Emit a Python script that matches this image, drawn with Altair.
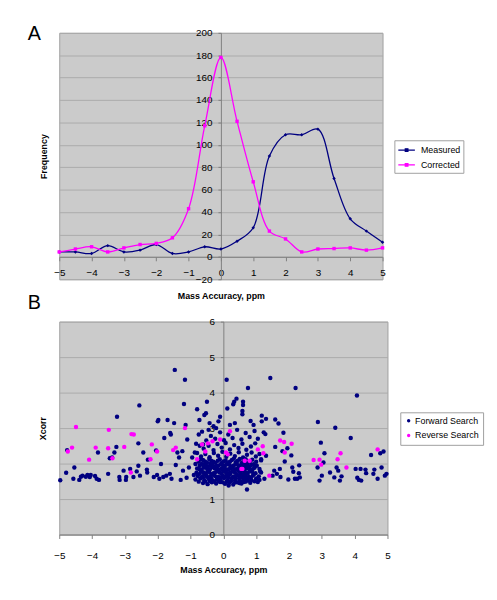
import altair as alt
import pandas as pd

# ---------------- Panel A data ----------------
x_ppm = [-5, -4.5, -4, -3.5, -3, -2.5, -2, -1.5, -1, -0.5, 0, 0.5, 1, 1.5, 2, 2.5, 3, 3.5, 4, 4.5, 5]
measured = [4.4, 4.4, 3, 10, 4.4, 6, 11, 3, 4.4, 9, 7, 14, 26, 90, 109, 109, 114, 70, 34, 23, 13]
corrected = [4.4, 7, 9, 4.4, 8, 11, 12, 17, 43, 117, 178, 121, 67, 23, 16, 4.4, 7, 7.4, 8, 6, 8]
series_a = ["Measured", "Corrected"]
colors_a = ["#000080", "#FF00FF"]

# ---------------- Panel B data ----------------
forward_points = [
    (-4.97, 1.53), (-4.79, 1.74), (-4.76, 2.38), (-4.54, 1.89), (-4.57, 1.57), (-4.39, 1.54), (-4.34, 1.63),
    (-4.29, 1.66), (-4.19, 1.63), (-4.14, 1.68), (-4.07, 1.62), (-4.04, 1.68), (-3.91, 1.65), (-3.86, 1.57),
    (-3.79, 1.54), (-3.82, 2.31), (-3.51, 1.71), (-3.46, 2.15), (-3.39, 2.17), (-3.26, 2.47), (-3.24, 3.32),
    (-3.32, 2.31), (-3.17, 1.62), (-3.16, 1.54), (-3.04, 1.80), (-2.96, 1.62), (-2.97, 1.54), (-2.84, 1.85),
    (-2.74, 1.62), (-2.64, 1.78), (-2.59, 2.57), (-2.56, 3.64), (-2.59, 1.94), (-2.54, 1.66), (-2.44, 2.31),
    (-2.32, 1.75), (-2.33, 1.83), (-2.30, 2.11), (-2.12, 1.62), (-2.05, 2.37), (-2.02, 1.68), (-2.00, 3.19),
    (-1.98, 3.23), (-1.95, 1.57), (-1.90, 1.99), (-1.83, 1.62), (-1.80, 2.72), (-1.74, 1.66), (-1.70, 3.23),
    (-1.63, 1.71), (-1.62, 2.86), (-1.60, 2.82), (-1.58, 1.57), (-1.50, 3.14), (-1.48, 4.64), (-1.45, 1.96),
    (-1.40, 2.31), (-1.35, 2.17), (-1.30, 1.54), (-1.25, 2.35), (-1.23, 1.80), (-1.20, 3.68), (-1.17, 4.36),
    (-1.15, 3.09), (-1.12, 1.60), (-1.10, 2.68), (-1.05, 1.89), (-0.95, 2.17), (-0.87, 2.31), (-0.83, 2.56),
    (-0.80, 3.53), (-0.75, 2.82), (-0.73, 3.23), (-0.62, 2.54), (-0.58, 3.37), (-0.53, 3.42), (-0.50, 3.74),
    (-0.45, 2.95), (-0.42, 3.14), (-0.30, 3.05), (-0.22, 3.00), (-0.15, 3.19), (-0.10, 3.32), (0.10, 4.36),
    (0.12, 3.55), (0.30, 3.67), (0.33, 3.74), (0.40, 3.83), (0.35, 3.14), (0.20, 3.09), (0.16, 1.38),
    (0.72, 1.27), (0.75, 4.13),
    (1.43, 4.41), (2.20, 4.13), (4.07, 3.92), (0.60, 3.74), (0.60, 3.65), (0.58, 3.48), (0.58, 3.39),
    (1.17, 3.35), (1.30, 3.26), (1.17, 3.19), (1.58, 3.24), (1.68, 3.13), (0.83, 3.20), (0.92, 3.09),
    (1.23, 2.88), (1.28, 2.83), (1.83, 2.87), (2.88, 3.17), (3.41, 3.01), (3.88, 2.72), (2.97, 2.59),
    (1.95, 2.43), (1.80, 2.35), (2.07, 2.23), (1.58, 2.47), (1.87, 2.06), (3.08, 2.29), (3.05, 2.03),
    (2.87, 1.89), (2.10, 1.89), (2.13, 1.77), (2.31, 1.95), (2.30, 1.73), (2.33, 1.61), (2.18, 1.57),
    (2.25, 1.57), (1.98, 1.55), (1.72, 1.85), (1.74, 1.62), (1.63, 1.71), (1.50, 1.66), (1.55, 1.80),
    (3.25, 1.75), (3.00, 1.66), (2.93, 1.52), (3.38, 1.61), (3.45, 1.89), (3.50, 1.80), (3.55, 1.52),
    (3.60, 1.64), (4.03, 1.85), (4.08, 1.60), (4.13, 1.54), (4.18, 1.85), (4.20, 1.52), (4.33, 1.83),
    (4.35, 1.73), (4.50, 2.24), (4.57, 1.71), (4.60, 1.83), (4.70, 1.57), (4.78, 2.29), (4.82, 1.89),
    (4.88, 2.34), (4.92, 1.66), (4.97, 1.71), (1.15, 2.12), (1.30, 2.22), (1.15, 1.75), (1.25, 1.57),
    (1.10, 1.54),
    # dense cluster around 0 ppm
    (-0.62, 1.45), (-0.48, 1.42), (-0.35, 1.47), (-0.22, 1.44), (-0.10, 1.48), (0.05, 1.43), (0.18, 1.46),
    (0.30, 1.41), (0.42, 1.47), (0.55, 1.44), (0.68, 1.49), (0.82, 1.46), (-0.75, 1.49), (0.95, 1.50),
    (1.05, 1.48),
    (-0.85, 1.55), (-0.70, 1.58), (-0.58, 1.53), (-0.45, 1.57), (-0.32, 1.52), (-0.20, 1.56), (-0.08, 1.54),
    (0.02, 1.59), (0.12, 1.52), (0.25, 1.57), (0.36, 1.53), (0.48, 1.58), (0.60, 1.52), (0.72, 1.56),
    (0.85, 1.53), (1.00, 1.58), (-0.40, 1.60), (0.15, 1.60), (0.50, 1.50),
    (-0.78, 1.65), (-0.65, 1.62), (-0.52, 1.68), (-0.40, 1.64), (-0.28, 1.67), (-0.15, 1.62), (-0.03, 1.66),
    (0.08, 1.63), (0.20, 1.69), (0.32, 1.64), (0.44, 1.67), (0.56, 1.62), (0.66, 1.68), (0.78, 1.63),
    (0.90, 1.66), (1.08, 1.64), (-0.90, 1.68), (0.27, 1.61), (-0.58, 1.70),
    (-0.82, 1.74), (-0.68, 1.78), (-0.55, 1.72), (-0.43, 1.76), (-0.30, 1.73), (-0.18, 1.79), (-0.06, 1.72),
    (0.05, 1.77), (0.16, 1.73), (0.28, 1.78), (0.39, 1.71), (0.51, 1.75), (0.63, 1.79), (0.74, 1.72),
    (0.87, 1.77), (0.98, 1.73), (1.12, 1.78), (-0.12, 1.75), (0.45, 1.80),
    (-0.80, 1.86), (-0.66, 1.82), (-0.53, 1.88), (-0.41, 1.84), (-0.27, 1.87), (-0.14, 1.83), (-0.01, 1.89),
    (0.10, 1.82), (0.22, 1.86), (0.34, 1.83), (0.47, 1.88), (0.58, 1.84), (0.70, 1.87), (0.83, 1.82),
    (0.95, 1.88), (1.10, 1.85), (-0.35, 1.90), (0.60, 1.90),
    (-0.72, 1.94), (-0.60, 1.97), (-0.47, 1.92), (-0.33, 1.96), (-0.20, 1.93), (-0.07, 1.98), (0.04, 1.92),
    (0.17, 1.97), (0.30, 1.94), (0.41, 1.99), (0.54, 1.93), (0.67, 1.96), (0.79, 1.92), (0.92, 1.98),
    (1.02, 1.94), (-0.85, 1.99),
    (-0.75, 2.05), (-0.62, 2.10), (-0.50, 2.03), (-0.37, 2.08), (-0.24, 2.02), (-0.11, 2.12), (0.00, 2.06),
    (0.13, 2.01), (0.26, 2.10), (0.38, 2.04), (0.50, 2.13), (0.62, 2.07), (0.74, 2.02), (0.88, 2.11),
    (1.00, 2.05), (1.15, 2.09),
    (-0.68, 2.20), (-0.55, 2.27), (-0.42, 2.18), (-0.29, 2.30), (-0.16, 2.22), (-0.03, 2.33), (0.09, 2.19),
    (0.21, 2.28), (0.35, 2.21), (0.47, 2.32), (0.60, 2.17), (0.72, 2.25), (0.86, 2.31), (0.99, 2.20),
    (-0.80, 2.30), (1.10, 2.27),
    (-0.60, 2.42), (-0.45, 2.50), (-0.30, 2.38), (-0.18, 2.55), (-0.05, 2.45), (0.07, 2.58), (0.20, 2.40),
    (0.33, 2.52), (0.46, 2.44), (0.58, 2.56), (0.70, 2.39), (0.84, 2.48), (0.97, 2.57), (-0.72, 2.50),
    (-0.52, 2.65), (-0.38, 2.78), (-0.25, 2.70), (-0.10, 2.88), (0.02, 2.66), (0.15, 2.82), (0.28, 2.72),
    (0.42, 2.95), (0.55, 2.68), (0.68, 2.86), (0.80, 2.75), (0.95, 2.92), (-0.65, 2.90), (1.05, 2.70),
    # core of the cluster (more points)
    (-0.55, 1.49), (-0.42, 1.51), (-0.28, 1.49), (-0.15, 1.51), (-0.02, 1.47), (0.10, 1.49), (0.23, 1.50),
    (0.36, 1.47), (0.49, 1.45), (0.62, 1.48), (0.75, 1.52),
    (-0.62, 1.61), (-0.50, 1.63), (-0.36, 1.59), (-0.23, 1.64), (-0.10, 1.60), (0.03, 1.63), (0.14, 1.66),
    (0.37, 1.60), (0.50, 1.65), (0.61, 1.59), (0.72, 1.61), (0.84, 1.60),
    (-0.72, 1.71), (-0.60, 1.75), (-0.48, 1.79), (-0.36, 1.70), (-0.24, 1.76), (-0.01, 1.80), (0.10, 1.70),
    (0.22, 1.74), (0.34, 1.76), (0.57, 1.70), (0.69, 1.75), (0.80, 1.79), (0.93, 1.70),
    (-0.73, 1.84), (-0.60, 1.89), (-0.47, 1.82), (-0.20, 1.88), (-0.07, 1.85), (0.04, 1.87), (0.16, 1.84),
    (0.28, 1.89), (0.40, 1.85), (0.52, 1.82), (0.64, 1.85), (0.76, 1.89), (0.89, 1.84),
    (-0.66, 1.99), (-0.53, 1.95), (-0.40, 1.99), (-0.27, 1.91), (-0.14, 1.95), (0.00, 1.95), (0.10, 1.99),
    (0.23, 1.92), (0.36, 1.97), (0.48, 1.95), (0.60, 1.99), (0.73, 1.94), (0.85, 1.96),
    (-0.68, 2.12), (-0.56, 2.06), (-0.43, 2.13), (-0.30, 2.05), (-0.17, 2.08), (-0.05, 2.02), (0.07, 2.09),
    (0.20, 2.05), (0.32, 2.14), (0.44, 2.08), (0.56, 2.02), (0.68, 2.12), (0.81, 2.06),
]
reverse_points = [
    (-4.74, 2.34), (-4.61, 2.45), (-4.49, 3.03), (-4.09, 2.11), (-3.89, 2.45), (-3.51, 2.43), (-3.49, 2.95),
    (-3.38, 2.15), (-3.02, 2.47), (-2.82, 1.75), (-2.80, 2.83), (-2.73, 2.82), (-2.22, 2.12), (-2.18, 2.54),
    (-2.02, 2.34), (-1.53, 2.38), (-1.45, 2.45), (-1.17, 3.00), (-0.80, 2.12), (-0.65, 2.54), (-0.55, 2.34),
    (-0.47, 2.57), (-0.33, 2.63), (-0.10, 2.68), (0.08, 2.31), (0.13, 2.26), (0.20, 2.91), (0.55, 1.85),
    (0.65, 2.08), (1.05, 2.40), (1.20, 2.49), (1.22, 2.29), (1.40, 1.66), (0.80, 2.08), (1.73, 2.65),
    (1.85, 2.61), (1.87, 2.31), (2.08, 2.56), (2.75, 2.10), (2.93, 2.11), (2.98, 1.97), (3.48, 2.12),
    (3.57, 2.29), (3.75, 1.89), (4.70, 2.40), (0.58, 1.85),
]
series_b = ["Forward Search", "Reverse Search"]

# ---------------- styling ----------------
BG = "#CBCBCB"
GRID = "#ABABAB"
AXIS = "#808080"
FONT = "Liberation Sans"

W_A, H_A = 328, 250
W_B, H_B = 333, 216

df_a = pd.DataFrame({
    "x": x_ppm * 2,
    "y": measured + corrected,
    "series": [series_a[0]] * len(x_ppm) + [series_a[1]] * len(x_ppm),
})

color_a = alt.Color(
    "series:N",
    scale=alt.Scale(domain=series_a, range=colors_a),
    legend=alt.Legend(
        title=None, orient="none", legendX=340, legendY=109,
        fillColor="white", strokeColor="#A0A0A0", padding=3,
        labelFontSize=9, labelFont=FONT,
        symbolType="M-1.4,0H1.4M-0.22,-0.22H0.22V0.22H-0.22Z",
        symbolSize=144, symbolStrokeWidth=1.3, symbolOffset=2.4,
        rowPadding=3, labelOffset=7.5,
    ),
)

x_a = alt.X(
    "x:Q",
    scale=alt.Scale(domain=[-5, 5], nice=False, zero=False),
    axis=alt.Axis(
        values=list(range(-5, 6)), offset=-(H_A * 20 / 220), grid=False,
        title="Mass Accuracy, ppm", titleY=39, titleBaseline="middle",
        labelFlush=False, labelOverlap=False, tickSize=4, labelPadding=7,
    ),
)
y_a = alt.Y(
    "y:Q",
    scale=alt.Scale(domain=[-20, 200], nice=False, zero=False),
    axis=alt.Axis(
        values=list(range(-20, 201, 20)), offset=-W_A / 2, grid=True,
        title="Frequency", titleX=-180, titleY=H_A / 2, titleBaseline="middle",
        labelFlush=False, labelOverlap=False, tickSize=3, labelPadding=6,
    ),
)

base_a = alt.Chart(df_a)
line_a = base_a.mark_line(interpolate="catmull-rom", strokeWidth=1.3).encode(
    x=x_a, y=y_a, color=color_a
)
pts_a = base_a.mark_point(filled=True, size=12, opacity=1).encode(
    x=x_a, y=y_a,
    color=alt.Color("series:N", scale=alt.Scale(domain=series_a, range=colors_a), legend=None),
    shape=alt.Shape("series:N", scale=alt.Scale(domain=series_a, range=["diamond", "square"]), legend=None),
)
panel_a = alt.layer(line_a, pts_a).properties(
    width=W_A, height=H_A,
    title=alt.TitleParams("A", anchor="start", fontSize=20, fontWeight="normal",
                          font=FONT, frame="group", dx=-32, dy=16, offset=0),
)

df_b = pd.DataFrame(
    [(x, y, series_b[0]) for x, y in forward_points] + [(x, y, series_b[1]) for x, y in reverse_points],
    columns=["x", "y", "series"],
)
df_b["order"] = [0] * len(forward_points) + [1] * len(reverse_points)

panel_b = alt.Chart(df_b).mark_circle(size=20, opacity=1).encode(
    x=alt.X(
        "x:Q",
        scale=alt.Scale(domain=[-5, 5], nice=False, zero=False),
        axis=alt.Axis(
            values=list(range(-5, 6)), grid=False, title="Mass Accuracy, ppm",
            titleY=36, titleBaseline="middle", labelFlush=False, labelOverlap=False,
            tickSize=4, labelPadding=12,
        ),
    ),
    y=alt.Y(
        "y:Q",
        scale=alt.Scale(domain=[0, 6], nice=False, zero=False),
        axis=alt.Axis(
            values=list(range(0, 7)), offset=-W_B / 2, grid=True, title="Xcorr",
            titleX=-183.5, titleY=H_B / 2, titleBaseline="middle",
            labelFlush=False, labelOverlap=False, tickSize=3, labelPadding=6,
        ),
    ),
    color=alt.Color(
        "series:N",
        scale=alt.Scale(domain=series_b, range=colors_a),
        legend=alt.Legend(
            title=None, orient="none", legendX=346, legendY=92,
            fillColor="white", strokeColor="#A0A0A0", padding=4,
            labelFontSize=9, labelFont=FONT, symbolType="circle",
            symbolSize=12, rowPadding=5, labelOffset=2,
        ),
    ),
    order=alt.Order("order:Q"),
).properties(
    width=W_B, height=H_B,
    title=alt.TitleParams("B", anchor="start", fontSize=20, fontWeight="normal",
                          font=FONT, frame="group", dx=-32, dy=-4, offset=0),
)

chart = alt.vconcat(panel_a, panel_b, spacing=43, bounds="flush").resolve_scale(
    color="independent", x="independent", y="independent"
).configure(
    font=FONT, padding={"left": 19, "top": 11, "right": 5, "bottom": 5}
).configure_view(
    fill=BG, stroke="#A0A0A0", strokeWidth=1
).configure_axis(
    labelFont=FONT, labelFontSize=10, labelColor="#000000",
    titleFont=FONT, titleFontSize=9, titleFontWeight="bold", titleColor="#000000",
    domainColor=AXIS, tickColor=AXIS, gridColor=GRID, gridWidth=1,
    domainWidth=1, tickWidth=1,
).configure_legend(
    labelColor="#000000",
)

chart.save("out.html", embed_options={"renderer": "svg", "actions": False})
